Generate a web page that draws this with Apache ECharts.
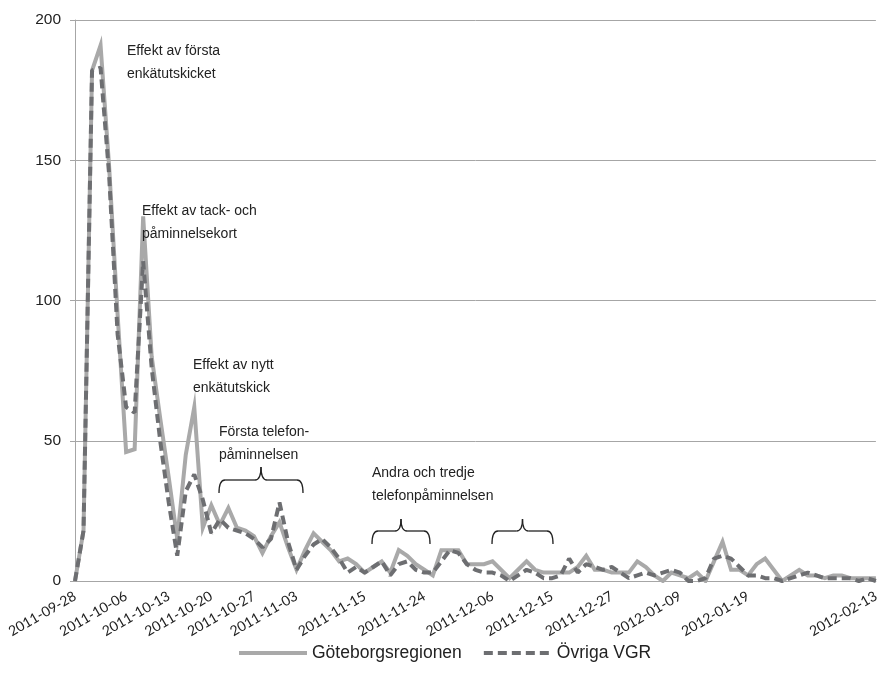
<!DOCTYPE html>
<html>
<head>
<meta charset="utf-8">
<script src="https://cdn.jsdelivr.net/npm/echarts@6/dist/echarts.min.js"></script>
<style>
  html, body { margin: 0; padding: 0; background: #ffffff; }
  #chart { width: 882px; height: 688px; }
</style>
</head>
<body>
<div id="chart"></div>
<script>
const categories = [
  "2011-09-28","2011-09-29","2011-09-30","2011-10-03","2011-10-04","2011-10-05","2011-10-06","2011-10-07","2011-10-10","2011-10-11",
  "2011-10-12","2011-10-13","2011-10-14","2011-10-17","2011-10-18","2011-10-19","2011-10-20","2011-10-21","2011-10-24","2011-10-25",
  "2011-10-26","2011-10-27","2011-10-28","2011-10-31","2011-11-01","2011-11-02","2011-11-03","2011-11-04","2011-11-07","2011-11-08",
  "2011-11-09","2011-11-10","2011-11-11","2011-11-14","2011-11-15","2011-11-16","2011-11-17","2011-11-18","2011-11-21","2011-11-22",
  "2011-11-23","2011-11-24","2011-11-25","2011-11-28","2011-11-29","2011-11-30","2011-12-01","2011-12-02","2011-12-05","2011-12-06",
  "2011-12-07","2011-12-08","2011-12-09","2011-12-12","2011-12-13","2011-12-14","2011-12-15","2011-12-16","2011-12-19","2011-12-20",
  "2011-12-21","2011-12-22","2011-12-23","2011-12-27","2011-12-28","2011-12-29","2011-12-30","2012-01-02","2012-01-03","2012-01-04",
  "2012-01-05","2012-01-09","2012-01-10","2012-01-11","2012-01-12","2012-01-13","2012-01-16","2012-01-17","2012-01-18","2012-01-19",
  "2012-01-20","2012-01-23","2012-01-24","2012-01-25","2012-01-26","2012-01-27","2012-01-30","2012-01-31","2012-02-01","2012-02-02",
  "2012-02-03","2012-02-08","2012-02-09","2012-02-10","2012-02-13"
];

const goteborgsregionen = [
  0,18,182,191,148,95,46,47,130,80,
  58,37,15,45,62,19,27,20,26,19,
  18,16,10,16,21,12,4,11,17,14,
  11,7,8,6,3,5,7,3,11,9,
  6,4,2,11,11,11,6,6,6,7,
  4,1,4,7,4,3,3,3,3,5,
  9,4,4,3,3,3,7,5,2,0,
  3,2,1,3,0,7,14,4,4,2,
  6,8,4,0,2,4,2,2,1,2,
  2,1,1,1,1
];

const ovrigaVGR = [
  0,18,182,183,145,88,62,60,114,76,
  50,28,9,32,38,29,17,22,19,18,
  17,15,12,15,28,14,4,9,13,15,
  12,8,3,5,3,5,7,2,6,7,
  4,3,3,7,11,10,6,4,3,3,
  2,0,2,4,3,1,1,2,8,3,
  6,5,4,5,3,1,2,3,2,3,
  4,3,0,0,1,8,9,8,5,2,
  2,1,1,0,1,2,3,2,1,1,
  1,1,0,1,0
];

const tickLabels = [
  "2011-09-28","2011-10-06","2011-10-13","2011-10-20","2011-10-27","2011-11-03","2011-11-15",
  "2011-11-24","2011-12-06","2011-12-15","2011-12-27","2012-01-09","2012-01-19","2012-02-13"
];

const yTicks = [0, 50, 100, 150, 200];

const annotations = [
  { text: "Effekt av första\nenkätutskicket", left: 127, top: 40 },
  { text: "Effekt av tack- och\npåminnelsekort", left: 142, top: 200 },
  { text: "Effekt av nytt\nenkätutskick", left: 193, top: 354 },
  { text: "Första telefon-\npåminnelsen", left: 219, top: 421 },
  { text: "Andra och tredje\ntelefonpåminnelsen", left: 372, top: 462 }
];

const braces = [
  { x0: 219, x1: 303, ym: 480, yb: 493, yt: 467 },
  { x0: 372, x1: 430, ym: 531, yb: 544, yt: 519 },
  { x0: 492, x1: 553, ym: 531, yb: 544, yt: 519 }
];

function braceElements(b) {
  const xc = (b.x0 + b.x1) / 2, r = 6;
  const s = { stroke: '#222', lineWidth: 1.3, fill: null };
  return [
    { type: 'bezierCurve', shape: { x1: b.x0, y1: b.yb, cpx1: b.x0, cpy1: b.ym, x2: b.x0 + r, y2: b.ym }, style: s },
    { type: 'line', shape: { x1: b.x0 + r, y1: b.ym, x2: xc - r, y2: b.ym }, style: s },
    { type: 'bezierCurve', shape: { x1: xc - r, y1: b.ym, cpx1: xc, cpy1: b.ym, x2: xc, y2: b.yt }, style: s },
    { type: 'bezierCurve', shape: { x1: xc + r, y1: b.ym, cpx1: xc, cpy1: b.ym, x2: xc, y2: b.yt }, style: s },
    { type: 'line', shape: { x1: xc + r, y1: b.ym, x2: b.x1 - r, y2: b.ym }, style: s },
    { type: 'bezierCurve', shape: { x1: b.x1, y1: b.yb, cpx1: b.x1, cpy1: b.ym, x2: b.x1 - r, y2: b.ym }, style: s }
  ];
}

const graphicElements = [];
annotations.forEach(a => {
  graphicElements.push({
    type: 'text', left: a.left, top: a.top, z: 100,
    style: { text: a.text, fontSize: 14, fontFamily: '"Liberation Sans", Arial, sans-serif', fill: '#222', lineHeight: 23 }
  });
});
braces.forEach(b => braceElements(b).forEach(e => { e.z = 100; graphicElements.push(e); }));

const tickSet = new Set(tickLabels);
const chart = echarts.init(document.getElementById('chart'), null, { renderer: 'canvas' });
chart.setOption({
  animation: false,
  backgroundColor: '#ffffff',
  grid: { left: 75, right: 3, top: 20, bottom: 107, containLabel: false },
  xAxis: {
    type: 'category',
    data: categories,
    boundaryGap: false,
    axisLine: { show: true, lineStyle: { color: '#a6a6a6', width: 1 } },
    axisTick: { show: false },
    axisLabel: {
      rotate: 30,
      interval: (idx, val) => tickSet.has(val),
      fontSize: 14,
      fontFamily: 'Lato, "Liberation Sans", sans-serif',
      color: '#222',
      margin: 14
    },
    splitLine: { show: false }
  },
  yAxis: {
    type: 'value',
    min: yTicks[0],
    max: yTicks[yTicks.length - 1],
    interval: yTicks[1] - yTicks[0],
    axisLine: { show: true, lineStyle: { color: '#a6a6a6', width: 1 } },
    axisTick: { show: true, length: 5, lineStyle: { color: '#a6a6a6' } },
    axisLabel: { fontSize: 15.5, fontFamily: '"Liberation Sans", Arial, sans-serif', color: '#222', margin: 14 },
    splitLine: { show: true, lineStyle: { color: '#a6a6a6', width: 1 } }
  },
  legend: {
    data: ['Göteborgsregionen', 'Övriga VGR'],
    left: 232,
    top: 639,
    itemWidth: 68,
    itemHeight: 14,
    itemGap: 20,
    itemStyle: { opacity: 0 },
    lineStyle: { width: 4 },
    textStyle: { fontSize: 17.5, fontFamily: '"Liberation Sans", Arial, sans-serif', color: '#222' }
  },
  series: [
    {
      name: 'Göteborgsregionen',
      type: 'line',
      data: goteborgsregionen,
      symbol: 'none',
      color: '#a9a9a9',
      lineStyle: { color: '#a9a9a9', width: 4, join: 'miter' },
      z: 2
    },
    {
      name: 'Övriga VGR',
      type: 'line',
      data: ovrigaVGR,
      symbol: 'none',
      color: '#6d6e71',
      lineStyle: { color: '#6d6e71', width: 4, type: [9, 5] },
      z: 3
    }
  ],
  graphic: graphicElements
});
</script>
</body>
</html>
